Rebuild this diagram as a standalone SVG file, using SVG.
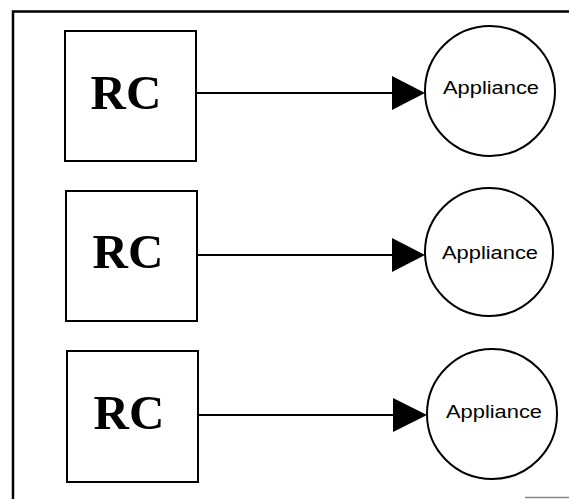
<svg xmlns="http://www.w3.org/2000/svg" width="569" height="499" viewBox="0 0 569 499">
  <style>
    .box { fill: #fff; stroke: #000; stroke-width: 2; }
    .node { fill: #fff; stroke: #000; stroke-width: 2; }
    .rc { font-family: "Liberation Serif", "Times New Roman", serif; font-weight: bold; font-size: 49px; fill: #000; text-anchor: middle; }
    .lbl { font-family: "Liberation Sans", Arial, sans-serif; font-size: 17.5px; fill: #000; text-anchor: middle; }
    .wire { stroke: #000; stroke-width: 2; fill: none; }
    .head { fill: #000; }
  </style>
  <rect width="569" height="499" fill="#fff"/>
  <!-- outer frame: top and left edges only -->
  <path d="M13 499 V11.5 H569" fill="none" stroke="#000" stroke-width="2.5"/>
  <line x1="525" y1="497.5" x2="569" y2="497.5" stroke="#888" stroke-width="1.5"/>

  <g id="rc1">
    <rect class="box" x="65" y="31" width="131" height="130"/>
    <text class="rc" x="126" y="109">RC</text>
  </g>
  <g id="rc2">
    <rect class="box" x="66" y="191" width="131" height="130"/>
    <text class="rc" x="128" y="268">RC</text>
  </g>
  <g id="rc3">
    <rect class="box" x="67" y="351" width="131" height="131"/>
    <text class="rc" x="129" y="429">RC</text>
  </g>

  <g id="appliance1">
    <circle class="node" cx="490" cy="91" r="65"/>
    <text class="lbl" x="491" y="94" textLength="96" lengthAdjust="spacingAndGlyphs">Appliance</text>
  </g>
  <g id="appliance2">
    <circle class="node" cx="489" cy="252" r="64"/>
    <text class="lbl" x="490" y="259" textLength="96" lengthAdjust="spacingAndGlyphs">Appliance</text>
  </g>
  <g id="appliance3">
    <circle class="node" cx="492" cy="414" r="65"/>
    <text class="lbl" x="494" y="418" textLength="96" lengthAdjust="spacingAndGlyphs">Appliance</text>
  </g>

  <g id="connectors">
    <line class="wire" x1="196" y1="93" x2="395" y2="93"/>
    <polygon class="head" points="392,76 425,93 392,110"/>
    <line class="wire" x1="197" y1="255" x2="395" y2="255"/>
    <polygon class="head" points="392,238 425,255 392,272"/>
    <line class="wire" x1="198" y1="415" x2="396" y2="415"/>
    <polygon class="head" points="393,398 427,415 393,432"/>
  </g>
</svg>
